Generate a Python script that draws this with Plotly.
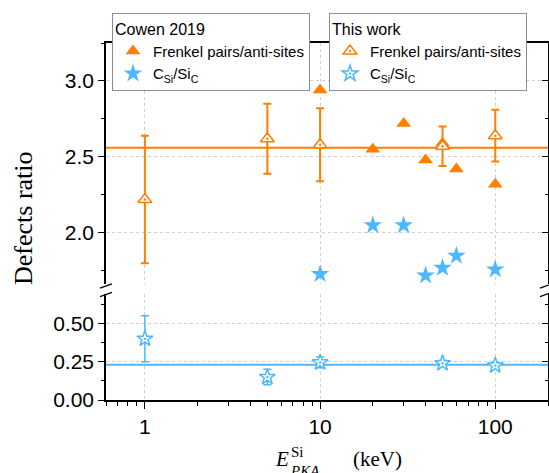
import plotly.graph_objects as go

# Primary knock-on atom energies (keV)
energy_cowen = [10, 20, 30, 40, 50, 60, 100]
energy_this = [1, 5, 10, 50, 100]

# Cowen 2019 defect ratios
cowen_frenkel = [2.94, 2.55, 2.72, 2.48, 2.59, 2.42, 2.32]
cowen_antisite = [1.73, 2.05, 2.05, 1.72, 1.77, 1.85, 1.76]

# This work: defect ratios with their spread
this_frenkel = [2.22, 2.62, 2.58, 2.57, 2.64]
this_frenkel_err = [0.42, 0.23, 0.24, 0.13, 0.17]
this_antisite = [0.40, 0.15, 0.245, 0.24, 0.225]
this_antisite_err = [0.15, 0.05, 0.035, 0.02, 0.02]

# Averages of this work
mean_frenkel = 2.56
mean_antisite = 0.23

# Axis ticks
x_ticks = [1, 10, 100]
x_tick_labels = ["1", "10", "100"]
upper_ticks = [2.0, 2.5, 3.0]
lower_ticks = [0.0, 0.25, 0.50]

ORANGE = "#FF7F00"
BLUE = "#4DB8FF"
GRID = "#CFCFCF"
SANS = "Liberation Sans, Arial, sans-serif"
SERIF = "Liberation Serif, Times New Roman, serif"

W, H = 549, 473
ML, MR, MT, MB = 106, 1, 43, 73
PW, PH = W - ML - MR, H - MT - MB


def fx(px):
    return (px - ML) / PW


def fy(py):
    return (H - MB - py) / PH


X_RANGE = [-0.222, 2.301]   # log10 of 0.6 .. 200
UPPER_RANGE = [1.664, 3.25]
LOWER_RANGE = [0.0, 0.692]
LOWER_DOMAIN = [0.0, fy(294)]
UPPER_DOMAIN = [fy(284), 1.0]

minor_x = [m * 10 ** k for k in (-1, 0, 1, 2) for m in range(2, 10)]
minor_x = [v for v in minor_x if 0.6 <= v <= 200]

fig = go.Figure()

# ---- upper panel: Frenkel pairs / anti-sites and Cowen anti-site ratios
fig.add_trace(go.Scatter(
    x=energy_cowen, y=cowen_frenkel, mode="markers", name="Frenkel pairs/anti-sites",
    marker=dict(symbol="triangle-up", size=13, color=ORANGE),
    xaxis="x2", yaxis="y2", legend="legend"))
fig.add_trace(go.Scatter(
    x=energy_cowen, y=cowen_antisite, mode="markers",
    name="C<sub>Si</sub>/Si<sub>C</sub>",
    marker=dict(symbol="star", size=14, color=BLUE),
    xaxis="x2", yaxis="y2", legend="legend"))
fig.add_trace(go.Scatter(
    x=energy_this, y=this_frenkel, mode="markers", name="Frenkel pairs/anti-sites",
    marker=dict(symbol="triangle-up-dot", size=12, color="white",
                line=dict(color=ORANGE, width=1.5)),
    error_y=dict(type="data", array=this_frenkel_err, color=ORANGE,
                 thickness=2, width=4),
    xaxis="x2", yaxis="y2", legend="legend2"))

# ---- lower panel: this work anti-site ratios
fig.add_trace(go.Scatter(
    x=energy_this, y=this_antisite, mode="markers",
    name="C<sub>Si</sub>/Si<sub>C</sub>",
    marker=dict(symbol="star-dot", size=12, color="white",
                line=dict(color=BLUE, width=1.5)),
    error_y=dict(type="data", array=this_antisite_err, color=BLUE,
                 thickness=1.5, width=4),
    xaxis="x", yaxis="y", legend="legend2"))

# empty traces that carry the right-hand mirror axes
fig.add_trace(go.Scatter(x=[], y=[], xaxis="x", yaxis="y3", showlegend=False))
fig.add_trace(go.Scatter(x=[], y=[], xaxis="x2", yaxis="y4", showlegend=False))

axis_font = dict(family=SANS, size=21, color="black")
legend_font = dict(family=SANS, size=15, color="black")

fig.update_layout(
    width=W, height=H,
    margin=dict(l=ML, r=MR, t=MT, b=MB, pad=0),
    paper_bgcolor="white", plot_bgcolor="white",
    font=dict(family=SANS, color="black"),
    xaxis=dict(
        type="log", range=X_RANGE, domain=[0, 1], anchor="y",
        tickmode="array", tickvals=x_ticks, ticktext=x_tick_labels,
        ticks="outside", ticklen=7, tickwidth=1.3, tickcolor="black",
        tickfont=axis_font, showline=True, linecolor="black", linewidth=1.5,
        showgrid=True, gridcolor=GRID, griddash="dot", gridwidth=1,
        minor=dict(tickmode="array", tickvals=minor_x, ticks="outside",
                   ticklen=4, tickwidth=1.1, tickcolor="black", showgrid=False),
        zeroline=False),
    xaxis2=dict(
        type="log", range=X_RANGE, domain=[0, 1], anchor="y2", side="top",
        matches="x", tickmode="array", tickvals=x_ticks,
        showticklabels=False, ticks="",
        showline=True, linecolor="black", linewidth=1.5,
        showgrid=True, gridcolor=GRID, griddash="dot", gridwidth=1,
        zeroline=False),
    yaxis=dict(
        range=LOWER_RANGE, domain=LOWER_DOMAIN, anchor="x",
        tickmode="array", tickvals=lower_ticks, tickformat=".2f",
        ticks="outside", ticklen=6, tickwidth=1.3, tickcolor="black",
        tickfont=axis_font, showline=True, linecolor="black", linewidth=1.5,
        showgrid=True, gridcolor=GRID, griddash="dot", gridwidth=1,
        minor=dict(dtick=0.125, tick0=0, ticks="outside", ticklen=3,
                   tickwidth=1.1, tickcolor="black", showgrid=False),
        zeroline=False),
    yaxis2=dict(
        range=UPPER_RANGE, domain=UPPER_DOMAIN, anchor="x2",
        tickmode="array", tickvals=upper_ticks, tickformat=".1f",
        ticks="outside", ticklen=6, tickwidth=1.3, tickcolor="black",
        tickfont=axis_font, showline=True, linecolor="black", linewidth=1.5,
        showgrid=True, gridcolor=GRID, griddash="dot", gridwidth=1,
        minor=dict(dtick=0.25, tick0=0, ticks="outside", ticklen=3,
                   tickwidth=1.1, tickcolor="black", showgrid=False),
        zeroline=False),
    yaxis3=dict(
        range=LOWER_RANGE, overlaying="y", side="right", anchor="x",
        tickmode="array", tickvals=lower_ticks, ticks="inside", ticklen=6,
        tickwidth=1.3, tickcolor="black", showticklabels=False,
        showline=True, linecolor="black", linewidth=1.5, showgrid=False,
        minor=dict(dtick=0.125, tick0=0, ticks="inside", ticklen=3,
                   tickwidth=1.1, tickcolor="black"),
        zeroline=False),
    yaxis4=dict(
        range=UPPER_RANGE, overlaying="y2", side="right", anchor="x2",
        tickmode="array", tickvals=upper_ticks, ticks="inside", ticklen=6,
        tickwidth=1.3, tickcolor="black", showticklabels=False,
        showline=True, linecolor="black", linewidth=1.5, showgrid=False,
        minor=dict(dtick=0.25, tick0=0, ticks="inside", ticklen=3,
                   tickwidth=1.1, tickcolor="black"),
        zeroline=False),
    legend=dict(
        title=dict(text="Cowen 2019", font=dict(family=SANS, size=16)),
        x=fx(112), y=fy(13), xanchor="left", yanchor="top",
        bgcolor="white", bordercolor="#8C8C8C", borderwidth=1,
        font=legend_font, tracegroupgap=0, itemsizing="trace"),
    legend2=dict(
        title=dict(text="This work", font=dict(family=SANS, size=16)),
        x=fx(329), y=fy(13), xanchor="left", yanchor="top",
        bgcolor="white", bordercolor="#8C8C8C", borderwidth=1,
        font=legend_font, tracegroupgap=0, itemsizing="trace"),
)

# average lines
fig.add_shape(type="line", xref="paper", x0=0, x1=1, yref="y2",
              y0=mean_frenkel, y1=mean_frenkel, layer="between",
              line=dict(color=ORANGE, width=2))
fig.add_shape(type="line", xref="paper", x0=0, x1=1, yref="y",
              y0=mean_antisite, y1=mean_antisite, layer="between",
              line=dict(color=BLUE, width=2))

# axis-break marks on both sides
for cx in (106, 546):
    for cy in (286, 294.5):
        fig.add_shape(type="line", xref="paper", yref="paper",
                      x0=fx(cx - 6), y0=fy(cy + 2.2), x1=fx(cx + 6), y1=fy(cy - 2.2),
                      line=dict(color="black", width=1.3))

# axis titles
fig.add_annotation(text="Defects ratio", xref="paper", yref="paper",
                   x=fx(23), y=fy(218), textangle=-90, showarrow=False,
                   xanchor="center", yanchor="middle",
                   font=dict(family=SERIF, size=26, color="black"))
fig.add_annotation(text="<i>E</i>", xref="paper", yref="paper",
                   x=fx(291), y=fy(459), showarrow=False,
                   xanchor="right", yanchor="middle",
                   font=dict(family=SERIF, size=21, color="black"))
fig.add_annotation(text="Si", xref="paper", yref="paper",
                   x=fx(289), y=fy(452), showarrow=False,
                   xanchor="left", yanchor="middle",
                   font=dict(family=SERIF, size=15, color="black"))
fig.add_annotation(text="<i>PKA</i>", xref="paper", yref="paper",
                   x=fx(288), y=fy(471), showarrow=False,
                   xanchor="left", yanchor="middle",
                   font=dict(family=SERIF, size=15, color="black"))
fig.add_annotation(text="(keV)", xref="paper", yref="paper",
                   x=fx(351), y=fy(459), showarrow=False,
                   xanchor="left", yanchor="middle",
                   font=dict(family=SERIF, size=21, color="black"))

fig.write_html("out.html")
